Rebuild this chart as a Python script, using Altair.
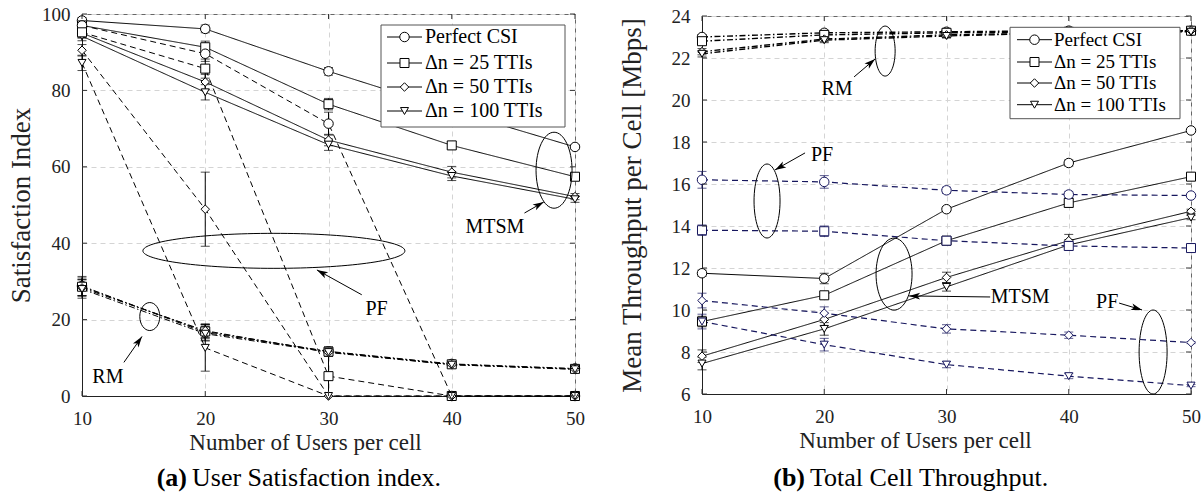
import math
import altair as alt
import pandas as pd

# ---------------- data ----------------
users = [10, 20, 30, 40, 50]
variants = ["Perfect CSI", "Δn = 25 TTIs", "Δn = 50 TTIs", "Δn = 100 TTIs"]
schemes = ["MTSM", "PF", "RM"]

# (a) user satisfaction index, rows follow `variants`
sat_mtsm = [[98.3, 96.1, 85.0, 74.8, 65.2],
            [97.0, 91.3, 76.4, 65.6, 57.4],
            [95.0, 82.2, 67.0, 58.6, 52.2],
            [94.2, 79.5, 65.8, 57.6, 51.5]]
sat_mtsm_err = [[0.8, 1.0, 1.0, 0.8, 0.5],
                [1.0, 1.6, 1.5, 1.0, 0.6],
                [1.2, 2.0, 1.5, 1.5, 0.8],
                [1.2, 2.0, 1.5, 1.2, 0.8]]
sat_pf = [[97.0, 89.6, 71.3, 0.0, 0.0],
          [95.2, 85.7, 5.2, 0.0, 0.0],
          [90.5, 48.9, 0.0, 0.0, 0.0],
          [87.2, 12.6, 0.0, 0.0, 0.0]]
sat_pf_err = [[1.0, 2.0, 3.0, 0.0, 0.0],
              [1.5, 2.5, 5.5, 0.0, 0.0],
              [1.5, 9.7, 0.0, 0.0, 0.0],
              [2.0, 6.1, 0.0, 0.0, 0.0]]
sat_rm = [[28.8, 16.6, 11.7, 8.4, 7.2],
          [28.6, 16.9, 11.6, 8.3, 7.1],
          [28.3, 17.1, 11.4, 8.2, 7.0],
          [28.0, 16.3, 11.5, 8.2, 7.0]]
sat_rm_err = [[2.5, 2.0, 1.2, 0.6, 0.4],
              [2.3, 1.8, 1.0, 0.5, 0.4],
              [2.2, 1.8, 1.0, 0.5, 0.3],
              [2.4, 1.9, 1.1, 0.5, 0.3]]

# (b) mean throughput per cell [Mbps]
thr_mtsm = [[11.75, 11.5, 14.8, 17.0, 18.55],
            [9.45, 10.7, 13.3, 15.1, 16.35],
            [7.8, 9.55, 11.55, 13.3, 14.7],
            [7.45, 9.1, 11.1, 13.1, 14.4]]
thr_mtsm_err = [[0.15, 0.25, 0.12, 0.15, 0.08],
                [0.25, 0.15, 0.12, 0.2, 0.08],
                [0.3, 0.3, 0.25, 0.3, 0.1],
                [0.3, 0.3, 0.2, 0.25, 0.1]]
thr_pf = [[16.2, 16.1, 15.7, 15.5, 15.45],
          [13.8, 13.75, 13.3, 13.05, 12.95],
          [10.45, 9.85, 9.1, 8.8, 8.45],
          [9.45, 8.35, 7.4, 6.85, 6.4]]
thr_pf_err = [[0.4, 0.3, 0.15, 0.15, 0.05],
              [0.25, 0.25, 0.12, 0.1, 0.05],
              [0.35, 0.3, 0.2, 0.15, 0.05],
              [0.35, 0.3, 0.15, 0.12, 0.05]]
thr_rm = [[23.0, 23.2, 23.25, 23.3, 23.3],
          [22.8, 23.1, 23.2, 23.25, 23.3],
          [22.3, 22.9, 23.1, 23.2, 23.3],
          [22.2, 22.85, 23.05, 23.2, 23.25]]
thr_rm_err = [[0.12, 0.12, 0.1, 0.1, 0.08],
              [0.12, 0.12, 0.1, 0.1, 0.08],
              [0.15, 0.12, 0.1, 0.1, 0.08],
              [0.15, 0.12, 0.1, 0.1, 0.08]]

sat_ticks = [0, 20, 40, 60, 80, 100]
thr_ticks = [6, 8, 10, 12, 14, 16, 18, 20, 22, 24]

# annotations (label, x, y in data units)
sat_labels = [("PF", 33.9, 22.9), ("RM", 12.1, 5.1), ("MTSM", 43.5, 44.3)]
sat_ellipses = [(25.57, 38.0, 131, 17.5), (15.5, 20.8, 10, 14), (48.3, 59.1, 18, 38)]
sat_arrows = [(32.7, 26.5, 29.06, 33.0), (13.4, 8.8, 14.87, 15.6), (45.9, 47.9, 47.47, 50.8)]

thr_labels = [("RM", 21.05, 20.52), ("PF", 19.82, 17.38), ("MTSM", 36.02, 10.62), ("PF", 43.14, 10.38)]
thr_ellipses = [(24.98, 22.33, 10, 25), (15.32, 15.19, 13, 37), (25.71, 11.71, 18, 36), (46.9, 8.0, 14, 42)]
thr_arrows = [(22.44, 21.1, 24.16, 21.95), (18.43, 17.48, 15.97, 16.67),
              (33.57, 10.62, 26.94, 10.67), (44.12, 10.33, 46.0, 10.0)]

# ---------------- styling ----------------
FONT = "Liberation Serif"
DASHES = [[1, 0], [6, 4], [6, 2.5, 1.5, 2.5]]
MARKERS = ["circle", "square", "diamond", "triangle-down"]
MARKER_SIZE = [90, 64, 110, 100]
ARROW = "M 0 0 L 0.55 1.8 L 0 1.35 L -0.55 1.8 Z"


def long_table(blocks):
    rows = []
    for scheme, vals, errs in blocks:
        for vi, var in enumerate(variants):
            for ui, u in enumerate(users):
                v = vals[vi][ui]
                e = errs[vi][ui]
                rows.append({"scheme": scheme, "variant": var, "key": scheme + "|" + var,
                             "users": u, "value": v, "lo": max(v - e, 0.0), "hi": v + e, "err": e})
    return pd.DataFrame(rows)


def ellipse_path(rx, ry):
    m = max(rx, ry)
    a, b = rx / m, ry / m
    return (f"M {-a:.4f} 0 A {a:.4f} {b:.4f} 0 1 0 {a:.4f} 0 "
            f"A {a:.4f} {b:.4f} 0 1 0 {-a:.4f} 0 Z"), (2 * m) ** 2


def panel(df, ydom, yticks, ytitle, ytsize, ytpad, xtitle_x, W, H, colors, widths, labels,
          ellipses, arrows, legend, caption):
    xs = alt.Scale(domain=[10, 50], nice=False, zero=False)
    ys = alt.Scale(domain=ydom, nice=False, zero=False)
    xaxis = alt.Axis(values=users, title="Number of Users per cell", format="d", labelFlush=False,
                     titleX=xtitle_x)
    yaxis = alt.Axis(values=yticks, title=ytitle, format="d", titleFontSize=ytsize,
                     titlePadding=ytpad, labelFlush=False)

    def X(f="users"):
        return alt.X(f"{f}:Q", scale=xs, axis=xaxis)

    def Y(f="value"):
        return alt.Y(f"{f}:Q", scale=ys, axis=yaxis)

    def px2x(p):
        return 10 + p / W * 40

    def px2y(p):
        return ydom[1] - p / H * (ydom[1] - ydom[0])

    cscale = alt.Scale(domain=schemes, range=colors)
    shape = alt.Shape("variant:N", scale=alt.Scale(domain=variants, range=MARKERS), legend=None)
    size = alt.Size("variant:N", scale=alt.Scale(domain=variants, range=MARKER_SIZE), legend=None)
    base = alt.Chart(df)

    layers = []
    layers.append(base.mark_line().encode(
        x=X(), y=Y(),
        color=alt.Color("scheme:N", scale=cscale, legend=None),
        strokeDash=alt.StrokeDash("scheme:N", scale=alt.Scale(domain=schemes, range=DASHES), legend=None),
        strokeWidth=alt.StrokeWidth("scheme:N", scale=alt.Scale(domain=schemes, range=widths), legend=None),
        detail="key:N"))
    eb = base.transform_filter("datum.err > 0")
    layers.append(eb.mark_rule(strokeWidth=1).encode(
        x=X(), y=Y("lo"), y2="hi:Q", color=alt.Color("scheme:N", scale=cscale, legend=None)))
    for f in ["lo", "hi"]:
        layers.append(eb.mark_tick(orient="horizontal", size=9, thickness=1).encode(
            x=X(), y=Y(f), color=alt.Color("scheme:N", scale=cscale, legend=None)))
    layers.append(base.mark_point(filled=True, fill="white", strokeWidth=1, opacity=1).encode(
        x=X(), y=Y(), shape=shape, size=size,
        stroke=alt.Stroke("scheme:N", scale=cscale, legend=None)))

    # annotations
    for (cx, cy, rx, ry) in ellipses:
        path, sz = ellipse_path(rx, ry)
        layers.append(alt.Chart(pd.DataFrame({"users": [cx], "value": [cy]})).mark_point(
            shape=path, size=sz, filled=False, color="black", strokeWidth=1, opacity=1
        ).encode(x=X(), y=Y()))
    for (x0, y0, x1, y1) in arrows:
        layers.append(alt.Chart(pd.DataFrame({"users": [x0], "value": [y0], "users2": [x1], "value2": [y1]}))
                      .mark_rule(color="black", strokeWidth=1)
                      .encode(x=X(), y=Y(), x2="users2:Q", y2="value2:Q"))
        dxp = (x1 - x0) / 40 * W
        dyp = -(y1 - y0) / (ydom[1] - ydom[0]) * H
        ang = math.degrees(math.atan2(dxp, -dyp)) % 360
        layers.append(alt.Chart(pd.DataFrame({"users": [x1], "value": [y1]})).mark_point(
            shape=ARROW, size=150, filled=True, color="black", opacity=1, angle=ang, strokeWidth=0
        ).encode(x=X(), y=Y()))
    ldf = pd.DataFrame({"label": [l[0] for l in labels], "users": [l[1] for l in labels],
                        "value": [l[2] for l in labels]})
    layers.append(alt.Chart(ldf).mark_text(font=FONT, fontSize=20, color="black").encode(
        x=X(), y=Y(), text="label:N"))

    # legend box (drawn as marks)
    bx0, by0, bx1, by1 = legend["box"]
    layers.append(alt.Chart(pd.DataFrame({"users": [px2x(bx0)], "value": [px2y(by0)],
                                          "users2": [px2x(bx1)], "value2": [px2y(by1)]}))
                  .mark_rect(fill="white", stroke="#555", strokeWidth=1)
                  .encode(x=X(), y=Y(), x2="users2:Q", y2="value2:Q"))
    lg = pd.DataFrame({"variant": variants, "label": variants,
                       "value": [px2y(r) for r in legend["rows"]],
                       "users": px2x(legend["mx"]), "lx0": px2x(legend["lx"][0]),
                       "lx1": px2x(legend["lx"][1]), "tx": px2x(legend["tx"])})
    layers.append(alt.Chart(lg).mark_rule(color="black", strokeWidth=1).encode(
        x=X("lx0"), x2="lx1:Q", y=Y()))
    layers.append(alt.Chart(lg).mark_point(filled=True, fill="white", stroke="black",
                                           strokeWidth=1, opacity=1).encode(
        x=X(), y=Y(), shape=shape, size=size))
    layers.append(alt.Chart(lg).mark_text(align="left", font=FONT, fontSize=legend["fs"],
                                          color="black").encode(
        x=X("tx"), y=Y(), text="label:N"))

    # inward ticks on the frame
    tx = pd.DataFrame({"users": users})
    ty = pd.DataFrame({"value": yticks})
    layers.append(alt.Chart(tx).mark_rule(color="#333").encode(x=X(), y=alt.value(H), y2=alt.value(H - 5)))
    layers.append(alt.Chart(tx).mark_rule(color="#333").encode(x=X(), y=alt.value(0), y2=alt.value(5)))
    layers.append(alt.Chart(ty).mark_rule(color="#333").encode(y=Y(), x=alt.value(0), x2=alt.value(5)))
    layers.append(alt.Chart(ty).mark_rule(color="#333").encode(y=Y(), x=alt.value(W - 5), x2=alt.value(W)))

    # caption
    (t1, t2, xr, xl, yc) = caption
    layers.append(alt.Chart(pd.DataFrame({"t": [t1]})).mark_text(
        align="right", font=FONT, fontSize=26, fontWeight="bold", color="black").encode(
        x=alt.value(xr), y=alt.value(yc), text="t:N"))
    layers.append(alt.Chart(pd.DataFrame({"t": [t2]})).mark_text(
        align="left", font=FONT, fontSize=26, color="black").encode(
        x=alt.value(xl), y=alt.value(yc), text="t:N"))

    return alt.layer(*layers).properties(width=W, height=H)


sat_df = long_table([("MTSM", sat_mtsm, sat_mtsm_err), ("PF", sat_pf, sat_pf_err), ("RM", sat_rm, sat_rm_err)])
thr_df = long_table([("MTSM", thr_mtsm, thr_mtsm_err), ("PF", thr_pf, thr_pf_err), ("RM", thr_rm, thr_rm_err)])

left = panel(sat_df, [0, 100], sat_ticks, "Satisfaction Index", 27, 6, 223, 493, 382,
             ["black", "black", "black"], [1, 1, 1], sat_labels, sat_ellipses, sat_arrows,
             {"box": (299, 11, 483, 113), "rows": [23, 49, 73, 97], "lx": (305, 340), "mx": 322.5,
              "tx": 343, "fs": 20},
             ("(a)", "User Satisfaction index.", 105, 110, 464))
right = panel(thr_df, [6, 24], thr_ticks, "Mean Throughput per Cell [Mbps]", 27, 25, 213, 489, 378,
              ["black", "#17175e", "black"], [1, 1.4, 1], thr_labels, thr_ellipses, thr_arrows,
              {"box": (308, 11.3, 478, 102.7), "rows": [23.7, 46, 67, 88.7], "lx": (315, 350),
               "mx": 332.5, "tx": 352, "fs": 19},
              ("(b)", "Total Cell Throughput.", 103, 108, 462))

chart = alt.hconcat(left, right, spacing=127, bounds="flush", center=True).resolve_scale(
    x="independent", y="independent", color="independent", stroke="independent",
    shape="independent", size="independent", strokeDash="independent", strokeWidth="independent"
).configure(
    padding={"left": 7, "top": 4, "right": 0, "bottom": 0}
).configure_view(
    stroke="#666", strokeWidth=1
).configure_axis(
    labelFont=FONT, titleFont=FONT, labelFontSize=19, titleFontSize=23,
    labelColor="#222", titleColor="#222", titleFontWeight="normal",
    ticks=False, tickSize=0, domainColor="#222",
    gridColor="#d4d4d4", gridDash=[5, 4], gridWidth=1
).configure_axisX(
    labelPadding=13, titlePadding=3
).configure_axisY(
    labelPadding=12
)

chart.save("out.html", embed_options={"renderer": "svg", "actions": False})
